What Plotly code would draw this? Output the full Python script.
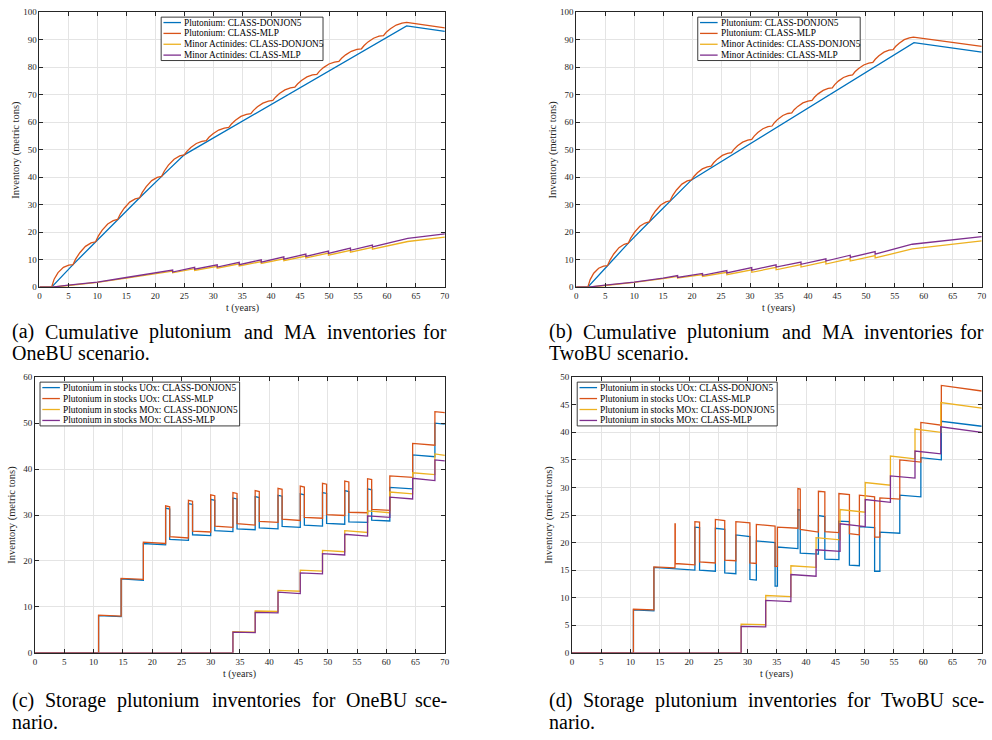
import plotly.graph_objects as go

W, H = 992, 740
C_BLUE, C_ORANGE, C_YELLOW, C_PURPLE = "#0072BD", "#D95319", "#EDB120", "#7E2F8E"
FONT = "Liberation Serif, DejaVu Serif, serif"

# ---------------- data: panel (a) OneBU cumulative ----------------
a_pu_donjon = [(0, 0), (2.1, 0), (5.8, 8.2), (9.7, 16.5), (13.5, 24.6), (17.3, 32.5),
               (21.1, 40.3), (25.0, 48.1), (63.4, 95.0), (70, 93.0)]
a_pu_mlp = [(0, 0), (2.1, 0),
            (2.54, 2.9), (3.21, 5.3), (4.14, 7.2), (5.06, 8.0), (5.8, 8.2),
            (6.27, 10.28), (6.97, 12.52), (7.95, 14.84), (8.92, 16.09), (9.7, 16.5),
            (10.16, 18.53), (10.84, 20.71), (11.79, 22.98), (12.74, 24.2), (13.5, 24.6),
            (13.96, 26.58), (14.64, 28.71), (15.59, 30.92), (16.54, 32.11), (17.3, 32.5),
            (17.76, 34.45), (18.44, 36.56), (19.39, 38.74), (20.34, 39.91), (21.1, 40.3),
            (21.57, 42.25), (22.27, 44.36), (23.25, 46.54), (24.22, 47.71), (25.0, 48.1),
            (25.46, 49.4), (26.14, 50.8), (27.09, 52.26), (28.04, 53.04), (28.8, 53.3),
            (29.27, 54.5), (29.97, 55.8), (30.95, 57.14), (31.92, 57.86), (32.7, 58.1),
            (33.16, 59.35), (33.84, 60.7), (34.79, 62.1), (35.74, 62.85), (36.5, 63.1),
            (36.96, 64.3), (37.64, 65.6), (38.59, 66.94), (39.54, 67.66), (40.3, 67.9),
            (40.76, 69.1), (41.44, 70.4), (42.39, 71.74), (43.34, 72.46), (44.1, 72.7),
            (44.56, 73.88), (45.24, 75.14), (46.19, 76.46), (47.14, 77.17), (47.9, 77.4),
            (48.36, 78.58), (49.04, 79.84), (49.99, 81.16), (50.94, 81.87), (51.7, 82.1),
            (52.17, 83.25), (52.87, 84.49), (53.85, 85.78), (54.82, 86.47), (55.6, 86.7),
            (56.06, 87.9), (56.74, 89.2), (57.69, 90.54), (58.64, 91.26), (59.4, 91.5),
            (59.88, 92.7), (60.6, 94.0), (61.6, 95.34), (62.6, 96.06), (63.4, 96.3),
            (70, 94.3)]
a_ma_donjon = [(0, 0), (2.2, 0), (5, 0.6), (10, 1.7), (15, 3.3), (20, 4.8), (23.0, 5.8), (23.0, 5.2),
               (26.8, 6.7), (26.8, 6.1), (30.7, 7.6), (30.7, 6.9), (34.5, 8.5), (34.5, 7.7),
               (38.3, 9.3), (38.3, 8.6), (42.2, 10.3), (42.2, 9.6), (46.0, 11.3), (46.0, 10.6),
               (49.9, 12.4), (49.9, 11.6), (53.7, 13.4), (53.7, 12.7), (57.5, 14.5), (57.5, 13.8),
               (63.6, 16.6), (70, 18.2)]
a_ma_mlp = [(0, 0), (2.2, 0), (5, 0.7), (10, 1.8), (15, 3.5), (20, 5.1), (23.0, 6.2), (23.0, 5.5),
            (26.8, 7.2), (26.8, 6.5), (30.7, 8.1), (30.7, 7.3), (34.5, 9.0), (34.5, 8.2),
            (38.3, 9.9), (38.3, 9.1), (42.2, 11.0), (42.2, 10.2), (46.0, 12.0), (46.0, 11.2),
            (49.9, 13.1), (49.9, 12.3), (53.7, 14.2), (53.7, 13.4), (57.5, 15.3), (57.5, 14.6),
            (63.6, 17.7), (70, 19.4)]

# ---------------- data: panel (b) TwoBU cumulative ----------------
b_pu_donjon = [(0, 0), (2.0, 0), (5.4, 7.8), (9.0, 16.0), (12.6, 23.7), (16.2, 31.4),
               (19.9, 39.0), (58.3, 88.9), (70, 85.5)]
b_pu_mlp = [(0, 0), (2.0, 0),
            (2.41, 2.73), (3.02, 5.07), (3.87, 6.86), (4.72, 7.64), (5.4, 7.8),
            (5.83, 9.85), (6.48, 12.06), (7.38, 14.36), (8.28, 15.59), (9.0, 16.0),
            (9.43, 17.93), (10.08, 20.0), (10.98, 22.16), (11.88, 23.32), (12.6, 23.7),
            (13.03, 25.63), (13.68, 27.7), (14.58, 29.86), (15.48, 31.02), (16.2, 31.4),
            (16.64, 33.3), (17.31, 35.35), (18.24, 37.48), (19.16, 38.62), (19.9, 39.0),
            (20.31, 40.25), (20.92, 41.6), (21.77, 43.0), (22.62, 43.75), (23.3, 44.0),
            (23.72, 45.23), (24.35, 46.55), (25.23, 47.92), (26.1, 48.66), (26.8, 48.9),
            (27.22, 50.1), (27.85, 51.4), (28.73, 52.74), (29.6, 53.46), (30.3, 53.7),
            (30.72, 54.93), (31.35, 56.25), (32.23, 57.62), (33.1, 58.36), (33.8, 58.6),
            (34.21, 59.8), (34.82, 61.1), (35.67, 62.44), (36.52, 63.16), (37.2, 63.4),
            (37.62, 64.53), (38.25, 65.74), (39.13, 67.0), (40.0, 67.68), (40.7, 67.9),
            (41.12, 69.05), (41.75, 70.29), (42.63, 71.58), (43.5, 72.27), (44.2, 72.5),
            (44.62, 73.68), (45.25, 74.94), (46.13, 76.26), (47.0, 76.97), (47.7, 77.2),
            (48.12, 78.33), (48.75, 79.54), (49.63, 80.8), (50.5, 81.48), (51.2, 81.7),
            (51.62, 82.88), (52.25, 84.14), (53.13, 85.46), (54.0, 86.17), (54.7, 86.4),
            (55.12, 87.53), (55.75, 88.74), (56.63, 90.0), (57.5, 90.68), (58.2, 90.9),
            (70, 87.6)]
b_ma_donjon = [(0, 0), (2.1, 0), (5, 0.6), (10, 1.7), (15, 3.1), (17.5, 3.9), (17.5, 3.3),
               (21.8, 4.6), (21.8, 3.9), (26.0, 5.4), (26.0, 4.5), (30.3, 6.3), (30.3, 5.4),
               (34.5, 7.2), (34.5, 6.3), (38.8, 8.2), (38.8, 7.3), (43.1, 9.3), (43.1, 8.4),
               (47.3, 10.4), (47.3, 9.5), (51.6, 11.5), (51.6, 10.6), (58.0, 13.9), (70, 16.8)]
b_ma_mlp = [(0, 0), (2.1, 0), (5, 0.7), (10, 1.8), (15, 3.3), (17.5, 4.2), (17.5, 3.5),
            (21.8, 5.0), (21.8, 4.3), (26.0, 6.0), (26.0, 5.2), (30.3, 7.1), (30.3, 6.2),
            (34.5, 8.1), (34.5, 7.3), (38.8, 9.1), (38.8, 8.3), (43.1, 10.3), (43.1, 9.5),
            (47.3, 11.6), (47.3, 10.8), (51.6, 12.9), (51.6, 12.0), (58.0, 15.6), (70, 18.4)]

# ---------------- data: panel (c) OneBU storage ----------------
c_uox_donjon = [(0, 0), (10.85, 0), (10.85, 8.1), (14.7, 7.9), (14.7, 16.1), (18.5, 15.8),
                (18.5, 23.8), (22.3, 23.5), (22.3, 31.5), (23.0, 31.3), (23.0, 24.7), (26.2, 24.5),
                (26.2, 32.5), (26.9, 32.3), (26.9, 25.7), (30.0, 25.5), (30.0, 33.4), (30.7, 33.2),
                (30.7, 26.6), (33.8, 26.4), (33.8, 33.7), (34.5, 33.5), (34.5, 27.0), (37.6, 26.8),
                (37.6, 34.0), (38.3, 33.8), (38.3, 27.2), (41.5, 27.0), (41.5, 34.3), (42.2, 34.1),
                (42.2, 27.5), (45.3, 27.3), (45.3, 34.6), (46.0, 34.4), (46.0, 27.8), (49.1, 27.6),
                (49.1, 34.9), (49.8, 34.7), (49.8, 28.2), (52.9, 28.0), (52.9, 35.3), (53.6, 35.1),
                (53.6, 28.5), (56.8, 28.4), (56.8, 35.7), (57.5, 35.5), (57.5, 28.9), (60.6, 28.7),
                (60.6, 36.0), (64.5, 35.7), (64.5, 43.1), (68.3, 42.7), (68.3, 50.0), (70, 49.8)]
c_uox_mlp = [(0, 0), (10.85, 0), (10.85, 8.2), (14.7, 8.0), (14.7, 16.2), (18.5, 16.0),
             (18.5, 24.1), (22.3, 23.8), (22.3, 32.0), (23.0, 31.8), (23.0, 25.3), (26.2, 25.0),
             (26.2, 33.2), (26.9, 33.0), (26.9, 26.5), (30.0, 26.3), (30.0, 34.4), (30.7, 34.2),
             (30.7, 27.6), (33.8, 27.3), (33.8, 34.9), (34.5, 34.7), (34.5, 28.1), (37.6, 27.8),
             (37.6, 35.3), (38.3, 35.1), (38.3, 28.6), (41.5, 28.4), (41.5, 35.8), (42.2, 35.6),
             (42.2, 29.1), (45.3, 28.8), (45.3, 36.3), (46.0, 36.1), (46.0, 29.5), (49.1, 29.3),
             (49.1, 36.9), (49.8, 36.7), (49.8, 30.1), (52.9, 29.9), (52.9, 37.4), (53.6, 37.2),
             (53.6, 30.6), (56.8, 30.5), (56.8, 37.9), (57.5, 37.7), (57.5, 31.2), (60.6, 31.0),
             (60.6, 38.5), (64.5, 38.2), (64.5, 45.6), (68.3, 45.2), (68.3, 52.5), (70, 52.3)]
c_mox_donjon = [(0, 0), (33.8, 0), (33.8, 4.6), (37.6, 4.5), (37.6, 9.1), (41.5, 9.0),
                (41.5, 13.6), (45.3, 13.4), (45.3, 18.0), (49.1, 17.8), (49.1, 22.3), (52.9, 22.0),
                (52.9, 26.6), (56.8, 26.2), (56.8, 30.9), (60.6, 30.5), (60.6, 35.0), (64.5, 34.6),
                (64.5, 39.2), (68.3, 38.8), (68.3, 43.3), (70, 43.0)]
c_mox_mlp = [(0, 0), (33.8, 0), (33.8, 4.5), (37.6, 4.4), (37.6, 8.8), (41.5, 8.7),
             (41.5, 13.2), (45.3, 12.9), (45.3, 17.4), (49.1, 17.2), (49.1, 21.6), (52.9, 21.3),
             (52.9, 25.8), (56.8, 25.4), (56.8, 29.8), (60.6, 29.5), (60.6, 33.9), (64.5, 33.5),
             (64.5, 38.0), (68.3, 37.5), (68.3, 42.0), (70, 41.8)]

# ---------------- data: panel (d) TwoBU storage ----------------
d_uox_donjon = [(0, 0), (10.5, 0), (10.5, 7.8), (14.0, 7.6), (14.0, 15.5), (17.6, 15.3), (21.0, 15.0),
                (21.0, 22.8), (21.8, 22.7), (21.8, 15.0), (24.5, 14.8), (24.5, 22.6), (26.1, 22.4),
                (26.1, 14.5), (28.0, 14.35), (28.0, 21.4), (30.4, 21.1), (30.4, 13.3), (31.5, 13.2),
                (31.5, 20.3), (34.7, 20.0), (34.7, 12.1), (35.1, 12.1), (35.1, 19.2), (38.6, 18.9),
                (38.6, 26.0), (39.0, 25.9), (39.0, 18.1), (42.1, 17.9), (42.1, 24.9), (43.2, 24.7),
                (43.2, 17.0), (45.6, 16.9), (45.6, 23.9), (47.4, 23.8), (47.4, 15.9), (49.1, 15.8),
                (49.1, 22.9), (51.7, 22.7), (51.7, 14.8), (52.6, 14.8), (52.6, 21.9), (56.0, 21.7),
                (56.0, 28.6), (59.6, 28.3), (59.6, 35.4), (63.1, 35.0), (63.1, 42.0), (70, 41.1)]
d_uox_mlp = [(0, 0), (10.5, 0), (10.5, 7.9), (14.0, 7.8), (14.0, 15.6), (17.6, 15.4), (17.6, 23.4),
             (17.65, 23.4), (17.65, 16.2), (21.0, 15.95), (21.0, 23.8), (21.8, 23.7), (21.8, 16.5),
             (24.5, 16.3), (24.5, 24.2), (26.1, 24.0), (26.1, 16.8), (28.0, 16.7), (28.0, 23.8),
             (30.4, 23.6), (30.4, 16.3), (31.5, 16.2), (31.5, 23.3), (34.7, 23.0), (34.7, 15.7),
             (35.1, 15.7), (35.1, 22.8), (38.6, 22.6), (38.6, 29.8), (39.0, 29.7), (39.0, 22.4),
             (42.1, 21.9), (42.1, 29.3), (43.2, 29.2), (43.2, 22.0), (45.6, 21.8), (45.6, 28.9),
             (47.4, 28.7), (47.4, 21.6), (49.1, 21.4), (49.1, 28.6), (51.7, 28.3), (51.7, 21.0),
             (52.6, 21.0), (52.6, 28.1), (56.0, 27.9), (56.0, 35.0), (59.6, 34.6), (59.6, 41.8),
             (63.1, 41.3), (63.1, 48.5), (70, 47.5)]
d_mox_donjon = [(0, 0), (28.9, 0), (28.9, 5.2), (33.1, 5.1), (33.1, 10.4), (37.4, 10.2),
                (37.4, 15.8), (41.7, 15.5), (41.7, 20.9), (45.8, 20.5), (45.8, 26.0), (50.1, 25.5),
                (50.1, 30.9), (54.4, 30.4), (54.4, 35.7), (58.6, 35.2), (58.6, 40.6), (63.0, 40.0),
                (63.0, 45.4), (70, 44.4)]
d_mox_mlp = [(0, 0), (28.9, 0), (28.9, 4.8), (33.1, 4.7), (33.1, 9.5), (37.4, 9.3),
             (37.4, 14.2), (41.7, 13.9), (41.7, 18.7), (45.8, 18.4), (45.8, 23.4), (50.1, 22.9),
             (50.1, 27.8), (54.4, 27.3), (54.4, 32.1), (58.6, 31.7), (58.6, 36.6), (63.0, 36.1),
             (63.0, 41.0), (70, 40.0)]

legend_top = ["Plutonium: CLASS-DONJON5", "Plutonium: CLASS-MLP",
              "Minor Actinides: CLASS-DONJON5", "Minor Actinides: CLASS-MLP"]
legend_bot = ["Plutonium in stocks UOx: CLASS-DONJON5", "Plutonium in stocks UOx: CLASS-MLP",
              "Plutonium in stocks MOx: CLASS-DONJON5", "Plutonium in stocks MOx: CLASS-MLP"]
captions = [
    ("(a) Cumulative plutonium and MA inventories for", "OneBU scenario."),
    ("(b) Cumulative plutonium and MA inventories for", "TwoBU scenario."),
    ("(c) Storage plutonium inventories for OneBU sce-", "nario."),
    ("(d) Storage plutonium inventories for TwoBU sce-", "nario."),
]
x_title = "t (years)"
y_title = "Inventory (metric tons)"

# ---------------- layout geometry (pixels) ----------------
panels = [
    dict(l=37.7, r=446.0, t=7.3, b=286.0, ymax=100, dy=10, lx0=160.3, lx1=323.3, ly0=12.3, ly1=56.3),
    dict(l=578.3, r=986.7, t=7.3, b=286.0, ymax=100, dy=10, lx0=700.7, lx1=864.3, ly0=12.3, ly1=56.3),
    dict(l=33.3, r=446.0, t=377.3, b=656.7, ymax=60, dy=10, lx0=38.3, lx1=239.3, ly0=382.3, ly1=426.7),
    dict(l=574.0, r=986.7, t=377.3, b=656.7, ymax=50, dy=5, lx0=579.3, lx1=780.7, ly0=382.3, ly1=426.7),
]
series = [
    [(a_pu_donjon, C_BLUE), (a_pu_mlp, C_ORANGE), (a_ma_donjon, C_YELLOW), (a_ma_mlp, C_PURPLE)],
    [(b_pu_donjon, C_BLUE), (b_pu_mlp, C_ORANGE), (b_ma_donjon, C_YELLOW), (b_ma_mlp, C_PURPLE)],
    [(c_uox_donjon, C_BLUE), (c_uox_mlp, C_ORANGE), (c_mox_donjon, C_YELLOW), (c_mox_mlp, C_PURPLE)],
    [(d_uox_donjon, C_BLUE), (d_uox_mlp, C_ORANGE), (d_mox_donjon, C_YELLOW), (d_mox_mlp, C_PURPLE)],
]
names = [legend_top, legend_top, legend_bot, legend_bot]

# approximate Computer Modern advance widths (pt at 10 pt) used to justify caption lines
CM = {"a": 5.0, "b": 5.56, "c": 4.44, "d": 5.56, "e": 4.44, "f": 3.06, "g": 5.0, "h": 5.56,
      "i": 2.78, "j": 3.06, "k": 5.28, "l": 2.78, "m": 8.33, "n": 5.56, "o": 5.0, "p": 5.56,
      "q": 5.28, "r": 3.92, "s": 3.94, "t": 3.89, "u": 5.56, "v": 5.28, "w": 7.22, "x": 5.28,
      "y": 5.28, "z": 4.44, "A": 7.5, "B": 7.08, "C": 7.22, "D": 7.64, "M": 9.17, "O": 7.78,
      "S": 5.56, "T": 7.22, "U": 7.5, "(": 3.89, ")": 3.89, ".": 2.78, "-": 3.33}
CM_SCALE = 1.83


def px(x):
    return x / W


def py(y):
    return 1 - y / H


def word_w(wd):
    return sum(CM.get(ch, 5.0) for ch in wd) * CM_SCALE


fig = go.Figure()
layout = dict(width=W, height=H, margin=dict(l=0, r=0, t=0, b=0),
              paper_bgcolor="white", plot_bgcolor="white", showlegend=False)
annotations, shapes = [], []
CAP_FONT = dict(family=FONT, size=20, color="#000000")

for i, p in enumerate(panels):
    k = "" if i == 0 else str(i + 1)
    for (pts, col), nm in zip(series[i], names[i]):
        fig.add_trace(go.Scatter(
            x=[q[0] for q in pts], y=[q[1] for q in pts], mode="lines", name=nm,
            line=dict(color=col, width=1.3), xaxis="x" + k, yaxis="y" + k,
            hoverinfo="skip"))
    common = dict(showgrid=True, gridcolor="#e4e4e4", gridwidth=1, zeroline=False,
                  showline=True, linecolor="#262626", linewidth=0.8, mirror="ticks",
                  ticks="inside", ticklen=4, tickcolor="#262626", tickwidth=0.8,
                  tickfont=dict(family=FONT, size=9, color="#262626"))
    layout["xaxis" + k] = dict(common, range=[0, 70], dtick=5, tick0=0,
                               domain=[px(p["l"]), px(p["r"])], anchor="y" + k)
    layout["yaxis" + k] = dict(common, range=[0, p["ymax"]], dtick=p["dy"], tick0=0,
                               domain=[py(p["b"]), py(p["t"])], anchor="x" + k)

    # legend box drawn in the reference's compact style
    shapes.append(dict(type="rect", xref="paper", yref="paper",
                       x0=px(p["lx0"]), x1=px(p["lx1"]), y0=py(p["ly1"]), y1=py(p["ly0"]),
                       line=dict(color="#262626", width=0.9), fillcolor="white", layer="above"))
    step = (p["ly1"] - p["ly0"]) / 4
    for j, ((pts, col), nm) in enumerate(zip(series[i], names[i])):
        yc = p["ly0"] + step * (j + 0.5)
        shapes.append(dict(type="line", xref="paper", yref="paper",
                           x0=px(p["lx0"] + 2.3), x1=px(p["lx0"] + 20), y0=py(yc), y1=py(yc),
                           line=dict(color=col, width=1.3), layer="above"))
        annotations.append(dict(x=px(p["lx0"] + 21), y=py(yc), xref="paper", yref="paper",
                                text=nm, showarrow=False, xanchor="left", yanchor="middle",
                                font=dict(family=FONT, size=9.3, color="#000000")))

    # axis titles
    annotations.append(dict(x=px(p["l"] - 23.5), y=py((p["t"] + p["b"]) / 2),
                            xref="paper", yref="paper", text=y_title, textangle=-90,
                            showarrow=False, xanchor="center", yanchor="middle",
                            font=dict(family=FONT, size=10.5, color="#262626")))
    annotations.append(dict(x=px((p["l"] + p["r"]) / 2), y=py(p["b"] + 21),
                            xref="paper", yref="paper", text=x_title,
                            showarrow=False, xanchor="center", yanchor="middle",
                            font=dict(family=FONT, size=10, color="#262626")))
    # captions: first line justified between the column edges, second line left-aligned
    cx0 = 8 if i % 2 == 0 else 549
    cx1 = cx0 + 442
    cy = 331 if i < 2 else 705
    words = captions[i][0].split()
    widths = [word_w(wd) for wd in words]
    gap = (cx1 - cx0 - sum(widths)) / (len(words) - 1)
    xpos = cx0
    for n, (wd, ww) in enumerate(zip(words, widths)):
        if n == 0:
            xa, xx = "left", xpos
        elif n == len(words) - 1:
            xa, xx = "right", cx1
        else:
            xa, xx = "center", xpos + ww / 2
        annotations.append(dict(x=px(xx), y=py(cy), xref="paper", yref="paper",
                                text=wd, showarrow=False, xanchor=xa, yanchor="middle",
                                font=CAP_FONT))
        xpos += ww + gap
    annotations.append(dict(x=px(cx0), y=py(cy + 22), xref="paper", yref="paper",
                            text=captions[i][1], showarrow=False, xanchor="left",
                            yanchor="middle", font=CAP_FONT))

layout["annotations"] = annotations
layout["shapes"] = shapes
fig.update_layout(**layout)
fig.write_html("out.html")
